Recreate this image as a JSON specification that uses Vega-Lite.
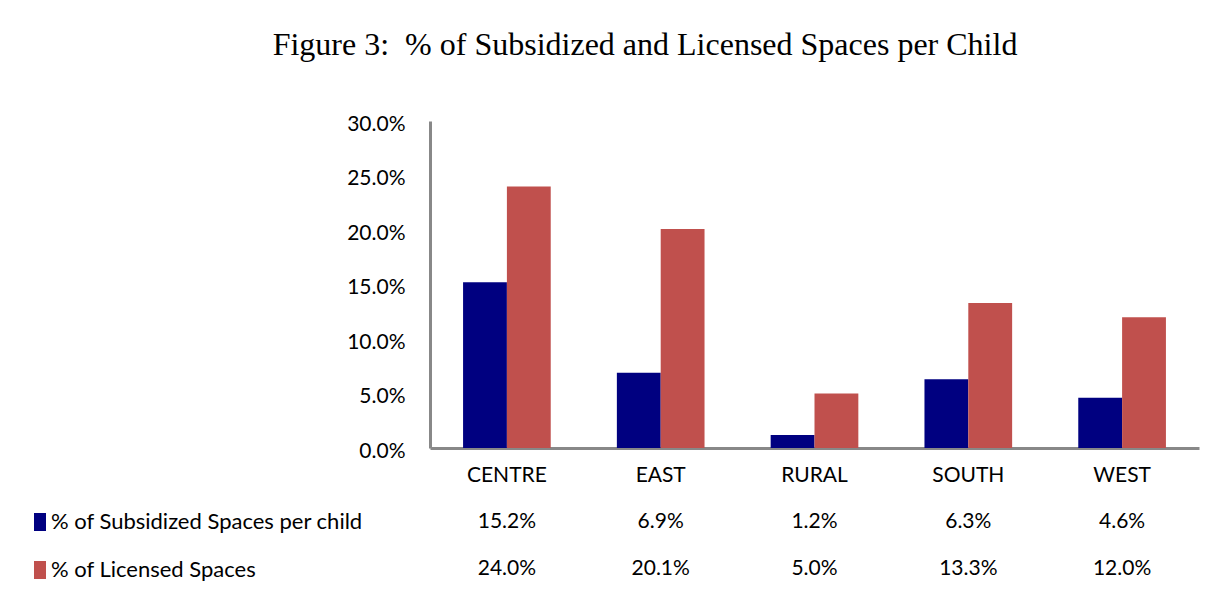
{
  "$schema": "https://vega.github.io/schema/vega-lite/v6.json",
  "background": "white",
  "padding": {"left": 29, "top": 29, "right": 5, "bottom": 5},
  "title": {
    "text": "Figure 3: \u00a0% of Subsidized and Licensed Spaces per Child",
    "font": "Liberation Serif",
    "fontSize": 32,
    "fontWeight": "normal",
    "color": "black",
    "anchor": "middle",
    "dx": 31,
    "offset": 51
  },
  "data": {
    "values": [
      {"region": "CENTRE", "series": "% of Subsidized Spaces per child", "value": 0.152},
      {"region": "CENTRE", "series": "% of Licensed Spaces", "value": 0.240},
      {"region": "EAST", "series": "% of Subsidized Spaces per child", "value": 0.069},
      {"region": "EAST", "series": "% of Licensed Spaces", "value": 0.201},
      {"region": "RURAL", "series": "% of Subsidized Spaces per child", "value": 0.012},
      {"region": "RURAL", "series": "% of Licensed Spaces", "value": 0.050},
      {"region": "SOUTH", "series": "% of Subsidized Spaces per child", "value": 0.063},
      {"region": "SOUTH", "series": "% of Licensed Spaces", "value": 0.133},
      {"region": "WEST", "series": "% of Subsidized Spaces per child", "value": 0.046},
      {"region": "WEST", "series": "% of Licensed Spaces", "value": 0.120}
    ]
  },
  "spacing": 13,
  "resolve": {"legend": {"color": "independent"}},
  "vconcat": [
    {
      "width": 769,
      "height": 327,
      "mark": {"type": "bar"},
      "encoding": {
        "x": {
          "field": "region", "type": "nominal",
          "sort": ["CENTRE", "EAST", "RURAL", "SOUTH", "WEST"],
          "scale": {"paddingInner": 0.43, "paddingOuter": 0.215},
          "axis": {"title": null, "labelAngle": 0, "ticks": false, "domainColor": "#888888", "domainWidth": 3, "labelFont": "Lato", "labelFontSize": 21, "labelColor": "black", "labelPadding": 16}
        },
        "xOffset": {
          "field": "series", "type": "nominal",
          "sort": ["% of Subsidized Spaces per child", "% of Licensed Spaces"],
          "scale": {"paddingInner": 0, "paddingOuter": 0}
        },
        "y": {
          "field": "value", "type": "quantitative",
          "scale": {"domain": [0, 0.3]},
          "axis": {"title": null, "format": ".1%", "values": [0, 0.05, 0.1, 0.15, 0.2, 0.25, 0.3], "grid": false, "ticks": false, "domainColor": "#888888", "domainWidth": 3, "labelFont": "Lato", "labelFontSize": 21, "labelColor": "black", "labelPadding": 25, "labelOffset": 3}
        },
        "color": {
          "field": "series", "type": "nominal",
          "scale": {"domain": ["% of Subsidized Spaces per child", "% of Licensed Spaces"], "range": ["#000080", "#C0504D"]},
          "legend": null
        }
      }
    },
    {
      "width": 769,
      "height": 94,
      "layer": [
        {
          "mark": {"type": "text", "font": "Lato", "fontSize": 21, "color": "black"},
          "encoding": {
            "x": {"field": "region", "type": "nominal", "sort": ["CENTRE", "EAST", "RURAL", "SOUTH", "WEST"], "scale": {"paddingInner": 0.43, "paddingOuter": 0.215}, "axis": null},
            "y": {"field": "series", "type": "nominal", "sort": ["% of Subsidized Spaces per child", "% of Licensed Spaces"], "scale": {"paddingInner": 0, "paddingOuter": 0}, "axis": null},
            "text": {"field": "value", "type": "quantitative", "format": ".1%"}
          }
        },
        {
          "mark": {"type": "point", "filled": true, "opacity": 0, "shape": "square"},
          "encoding": {
            "x": {"field": "region", "type": "nominal", "sort": ["CENTRE", "EAST", "RURAL", "SOUTH", "WEST"], "axis": null},
            "y": {"field": "series", "type": "nominal", "sort": ["% of Subsidized Spaces per child", "% of Licensed Spaces"], "axis": null},
            "color": {
              "field": "series", "type": "nominal",
              "scale": {"domain": ["% of Subsidized Spaces per child", "% of Licensed Spaces"], "range": ["#000080", "#C0504D"]},
              "legend": {
                "title": null, "orient": "none", "legendX": -401, "legendY": 13,
                "symbolType": "M-0.667,-1H0.667V1H-0.667Z", "symbolSize": 324,
                "symbolOpacity": 1, "symbolStrokeWidth": 0,
                "labelFont": "Lato", "labelFontSize": 22, "labelColor": "black",
                "labelExpr": "datum.label == '% of Licensed Spaces' ? '\u00a0' + datum.label : datum.label",
                "labelLimit": 500, "labelOffset": 0, "rowPadding": 26, "padding": 0
              }
            }
          }
        }
      ]
    }
  ],
  "config": {"view": {"stroke": null}}
}
